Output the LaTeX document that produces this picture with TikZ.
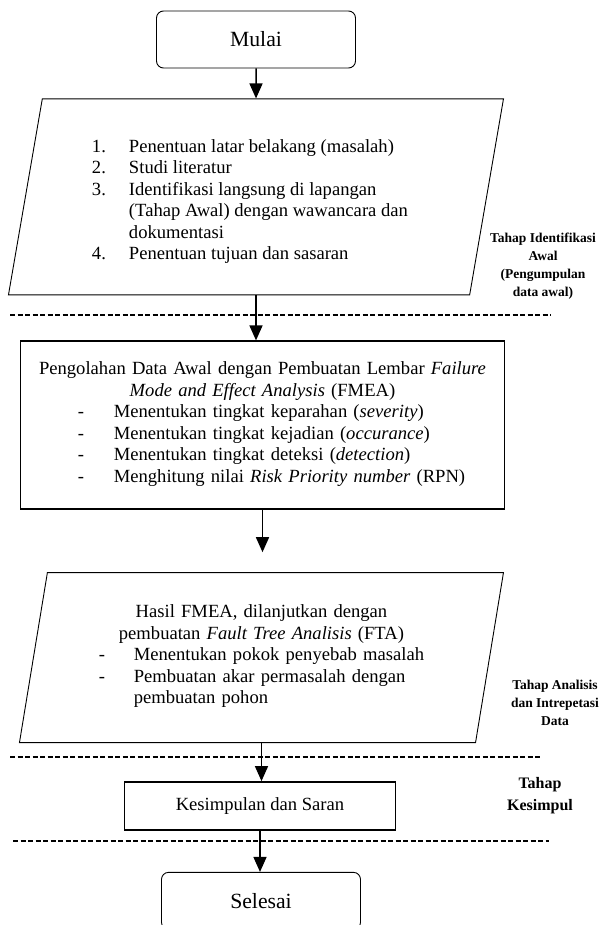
\documentclass[tikz,border=0pt]{standalone}
\usepackage{fontspec}
\setmainfont{Liberation Serif}
\usetikzlibrary{arrows.meta,positioning,shapes.geometric}

\begin{document}
\begin{tikzpicture}[->,>={Triangle[length=15pt,width=13pt]},line width=1.5pt,node distance=30pt]

            \tikzstyle{every node}=[font=\fontsize{18.6}{21.5}\selectfont]
            \tikzstyle{terminal}=[draw,rounded corners=7pt,minimum width=199pt,minimum height=57pt,line width=0.9pt,font=\fontsize{21.7}{25}\selectfont]
            \tikzstyle{io}=[draw,trapezium,trapezium left angle=76,trapezium right angle=104,trapezium stretches body,line width=0.9pt]
            \tikzstyle{process}=[draw,rectangle,line width=1.8pt,inner sep=0pt]
            \tikzstyle{phase}=[align=center,font=\fontsize{13.5}{18}\selectfont\bfseries]
            \tikzstyle{separator}=[-,dash pattern=on 5pt off 2.5pt,line width=1.6pt]

            \useasboundingbox (0,0) rectangle (598pt,-925pt);

            \node[terminal] (mulai) at (256pt,-39.5pt) {Mulai};
            \node[io,minimum width=495pt,minimum height=196pt] (awal) [below=30pt of mulai] {%
                \hspace*{-12pt}\raisebox{-5pt}[\height][\depth]{\begin{tabular}{@{}p{37pt}@{}l@{}}
                1. & Penentuan latar belakang (masalah)\\
                2. & Studi literatur\\
                3. & Identifikasi langsung di lapangan\\
                   & (Tahap Awal) dengan wawancara dan\\
                   & dokumentasi\\
                4. & Penentuan tujuan dan sasaran
                \end{tabular}}};
            \node[process,text width=484pt,minimum height=168pt,align=center] (fmea) [below=45pt of awal,xshift=6.5pt] {%
                Pengolahan Data Awal dengan Pembuatan Lembar \textit{Failure}\\
                \textit{Mode and Effect Analysis} (FMEA)\\
                \hspace*{18pt}\begin{tabular}[t]{@{}p{36pt}@{}l@{}}
                - & Menentukan tingkat keparahan (\textit{severity})\\
                - & Menentukan tingkat kejadian (\textit{occurance})\\
                - & Menentukan tingkat deteksi (\textit{detection})\\
                - & Menghitung nilai \textit{Risk Priority number} (RPN)
                \end{tabular}};
            \coordinate[below=42pt of fmea.south] (fmeaout);
            \node[io,minimum width=484pt,minimum height=170pt,text width=400pt,align=center] (fta) [below=62pt of fmea,xshift=-1pt] {%
                Hasil FMEA, dilanjutkan dengan\\
                pembuatan \textit{Fault Tree Analisis} (FTA)\\
                \begin{tabular}[t]{@{}p{35pt}@{}l@{}}
                - & Menentukan pokok penyebab masalah\\
                - & Pembuatan akar permasalah dengan\\
                  & pembuatan pohon
                \end{tabular}};
            \node[process,minimum width=271pt,minimum height=48pt] (saran) [below=38pt of fta,xshift=-1.5pt] {Kesimpulan dan Saran};
            \node[terminal] (selesai) [below=41pt of saran,xshift=1pt] {Selesai};

            % tahap
            \node[phase] (tahap1) at (543pt,-266.5pt) {Tahap Identifikasi\\Awal\\(Pengumpulan\\data awal)};
            \node[phase] (tahap2) at (555pt,-703pt) {Tahap Analisis\\dan Intrepetasi\\Data};
            \node[phase,font=\fontsize{16}{22}\selectfont\bfseries] (tahap3) at (540pt,-796pt) {Tahap\\Kesimpul};

            \draw[separator] (10pt,-315pt) -- (551pt,-315pt);
            \draw[separator] (10pt,-757pt) -- (542pt,-757pt);
            \draw[separator] (13pt,-841pt) -- (549pt,-841pt);

            \draw (mulai) -- (awal);
            \draw (awal.south) -- (awal.south |- fmea.north);
            \draw (fmea) -- (fmeaout);
            \draw (fta.south) -- (fta.south |- saran.north);
            \draw (saran.south) -- (saran.south |- selesai.north);
        \end{tikzpicture}
\end{document}
